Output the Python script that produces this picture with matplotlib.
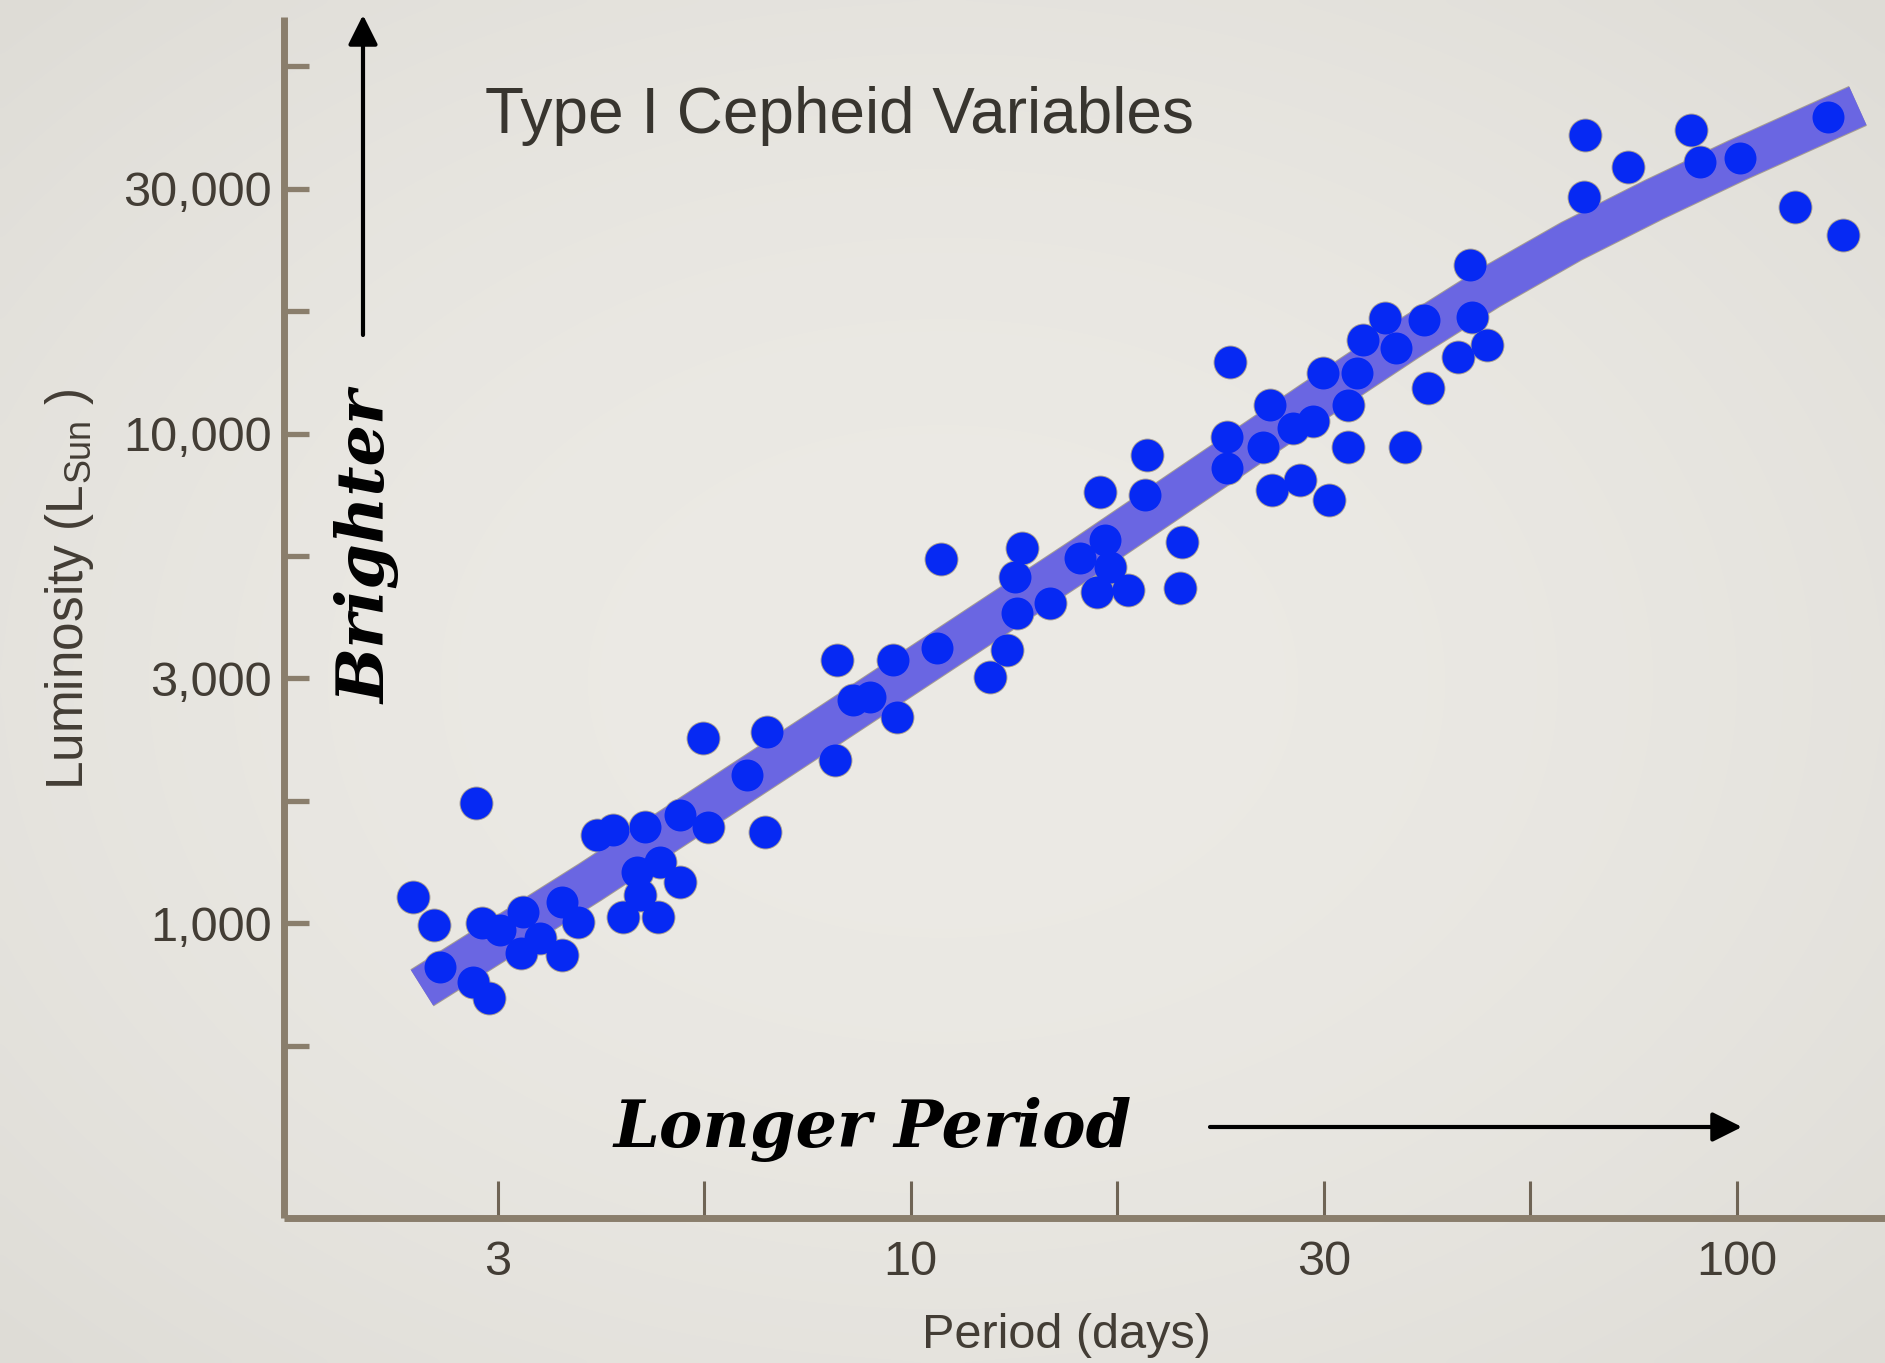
import matplotlib
matplotlib.use("Agg")
import numpy as np
import matplotlib.pyplot as plt
from matplotlib.patches import FancyArrowPatch

# ---------------- data ----------------
period_days = [2.50, 2.65, 2.69, 2.98, 2.95, 3.09, 3.03, 3.18, 3.39, 3.37,
               3.56, 3.78, 3.78, 3.96, 4.17, 4.36, 4.77, 5.26, 5.68, 6.66,
               6.34, 4.66, 4.97, 5.26, 4.49, 4.94, 4.70, 5.60, 6.70, 8.14,
               9.52, 10.76, 8.51, 8.93, 9.63, 8.10, 13.45, 14.74, 13.08, 12.48,
               13.64, 13.37, 16.03, 17.19, 17.43, 16.81, 18.33, 21.30, 21.18, 16.95,
               19.22, 19.33, 24.15, 24.15, 26.70, 29.02, 30.69, 33.83, 39.67, 27.37,
               29.60, 32.09, 10.88, 47.54, 24.36, 37.52, 41.82, 47.81, 35.28, 38.69,
               49.85, 45.98, 42.30, 31.56, 34.70, 33.83, 27.23, 65.51, 73.84, 65.33,
               88.08, 90.28, 100.9, 129.0, 117.7, 134.5]
luminosity_lsun = [1132, 992, 814, 1761, 759, 704, 1001, 969, 1055, 870,
                   933, 861, 1105, 1006, 1515, 1550, 1573, 1664, 1573, 1536,
                   2009, 1273, 1334, 1214, 1030, 1030, 1142, 2390, 2459, 3450,
                   3450, 3649, 2858, 2898, 2638, 2155, 4302, 4510, 3615, 3184,
                   5840, 5095, 5572, 6064, 5340, 4748, 4793, 6007, 4838, 7598,
                   7492, 9043, 9842, 8507, 9389, 10265, 10610, 9389, 9389, 7670,
                   8040, 7317, 5545, 22100, 14000, 17220, 17060, 17300, 15530, 14950,
                   15170, 14330, 12390, 13300, 13300, 11440, 11440, 40720, 35030, 30420,
                   41690, 35860, 36540, 44310, 29010, 25440]

# period-luminosity relation band
fit_period = [2.561, 4.090, 8.052, 16.17, 30.69, 39.81, 50.12, 63.10, 79.43, 100.0, 140.2]
fit_luminosity = [738, 1213, 2564, 5572, 11600, 15520, 19820, 24720, 30060, 36140, 46720]

x_tick_values = [3.162, 5.623, 10.0, 17.78, 31.62, 56.23, 100.0]
x_tick_labels = ["3", "", "10", "", "30", "", "100"]
y_tick_values = [562.3, 1000, 1778, 3162, 5623, 10000, 17783, 31623, 56234]
y_tick_labels = ["", "1,000", "", "3,000", "", "10,000", "", "30,000", ""]

title_text = "Type I Cepheid Variables"
x_label = "Period (days)"
y_label = "Luminosity (L$_{\\mathrm{Sun}}$ )"

# ---------------- style ----------------
plt.rcParams["mathtext.fontset"] = "custom"
plt.rcParams["mathtext.rm"] = "Liberation Sans"
plt.rcParams["mathtext.it"] = "Liberation Sans:italic"

BG = "#e8e6e1"
AXIS = "#8a7e6c"
TEXT = "#433d35"
DOT = "#0629f3"
BAND = "#6a66e2"
HALO = "#a59d94"

W, H = 1885, 1363
fig = plt.figure(figsize=(W / 100, H / 100), dpi=100, facecolor=BG)

# subtle paper vignette behind everything
bg_ax = fig.add_axes([0, 0, 1, 1], zorder=-10)
bg_ax.axis("off")
gy, gx = np.mgrid[-1:1:200j, -1:1:280j]
r = np.clip(np.sqrt(gx ** 2 + gy ** 2) / 1.414, 0, 1)
c0 = np.array([236, 234, 229]) / 255
c1 = np.array([222, 220, 214]) / 255
img = c0[None, None, :] * (1 - r[..., None] ** 2) + c1[None, None, :] * (r[..., None] ** 2)
bg_ax.imshow(img, aspect="auto", extent=[0, 1, 0, 1], interpolation="bicubic")

ax = fig.add_axes([284 / W, 1 - 1218 / H, 1 - 284 / W, (1218 - 17) / H])
ax.set_facecolor("none")
ax.set_xscale("log")
ax.set_yscale("log")
ax.set_xlim(1.743, 151.2)
ax.set_ylim(250, 70960)

# halo layers (outer outline of union)
ax.plot(fit_period, fit_luminosity, color=HALO, lw=31.5, solid_capstyle="butt",
        solid_joinstyle="round", zorder=2)
ax.scatter(period_days, luminosity_lsun, s=(24.4) ** 2, color=HALO, lw=0, zorder=3)
ax.plot(fit_period, fit_luminosity, color=BAND, lw=30, solid_capstyle="butt",
        solid_joinstyle="round", zorder=4)
ax.scatter(period_days, luminosity_lsun, s=23 ** 2, color=DOT, lw=0, zorder=5)

for s in ["top", "right"]:
    ax.spines[s].set_visible(False)
for s in ["left", "bottom"]:
    ax.spines[s].set_color(AXIS)
    ax.spines[s].set_linewidth(5)
    ax.spines[s].set_capstyle("butt")

ax.set_xticks(x_tick_values)
ax.set_xticklabels(x_tick_labels)
ax.set_yticks(y_tick_values)
ax.set_yticklabels(y_tick_labels)
ax.minorticks_off()
ax.tick_params(axis="x", which="major", direction="in", length=27, width=2.2,
               color="#6f6455", pad=16, labelsize=35, labelcolor=TEXT)
ax.tick_params(axis="y", which="major", direction="in", length=18, width=3.8,
               color=AXIS, pad=9, labelsize=35, labelcolor=TEXT)
for lab in ax.get_xticklabels() + ax.get_yticklabels():
    lab.set_fontfamily("Liberation Sans")

# texts
fig.text(485 / W, 1 - 133 / H, title_text, fontsize=46, family="Liberation Sans",
         color="#38352f", ha="left", va="baseline")
fig.text(1066 / W, 1 - 1336 / H, x_label, fontsize=35, family="Liberation Sans",
         color=TEXT, ha="center", va="center")
fig.text(69 / W, 1 - 589 / H, y_label, fontsize=37, family="Liberation Sans",
         color=TEXT, ha="center", va="center", rotation=90)
fig.text(368 / W, 1 - 547 / H, "Brighter", fontsize=47, family="DejaVu Serif",
         fontweight="bold", fontstyle="italic", color="black",
         ha="center", va="center", rotation=90)
fig.text(614 / W, 1 - 1147 / H, "Longer Period", fontsize=47, family="DejaVu Serif",
         fontweight="bold", fontstyle="italic", color="black",
         ha="left", va="baseline")

# arrows
arrow_style = "-|>,head_length=18,head_width=9"
fig.patches.append(FancyArrowPatch((363 / W, 1 - 335 / H), (363 / W, 1 - 15 / H),
                                   transform=fig.transFigure, arrowstyle=arrow_style,
                                   mutation_scale=1, lw=3, color="black",
                                   shrinkA=0, shrinkB=0))
fig.patches.append(FancyArrowPatch((1210 / W, 1 - 1127 / H), (1742 / W, 1 - 1127 / H),
                                   transform=fig.transFigure, arrowstyle=arrow_style,
                                   mutation_scale=1, lw=3, color="black",
                                   shrinkA=0, shrinkB=0))

fig.savefig("out.png", dpi=100, facecolor=BG)
